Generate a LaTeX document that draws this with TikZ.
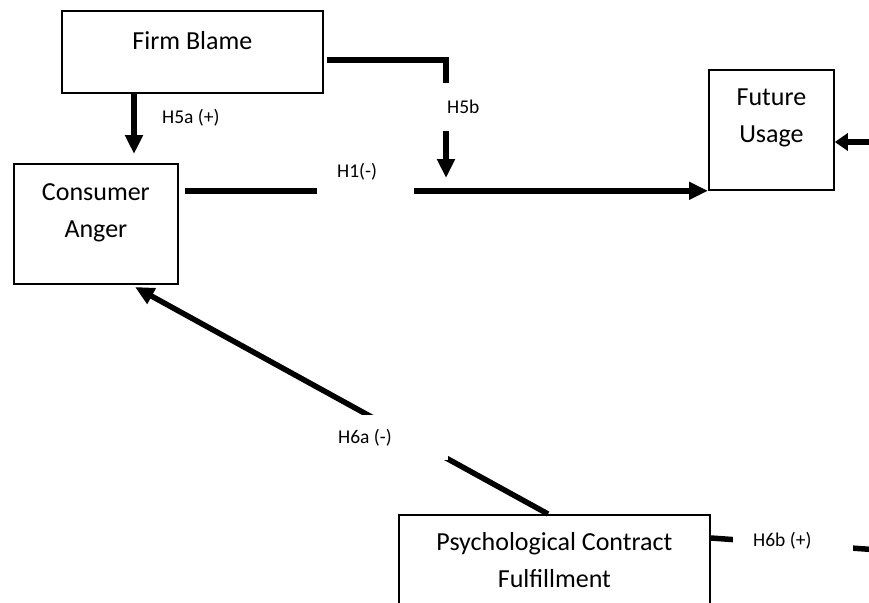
\documentclass[tikz,border=0pt]{standalone}
\usepackage{fontspec}
\setmainfont{Carlito}
\usetikzlibrary{arrows.meta,calc}

% text sizes for the construct boxes and the hypothesis labels
\newcommand\diagboxfont{\fontsize{26}{37}\selectfont}
\newcommand\diaglblfont{\fontsize{19.5}{23}\selectfont}
% box text: top-aligned, first baseline #3 below the top edge
\newcommand\boxtext[4]{\parbox[c][#2][t]{#1}{\centering\diagboxfont\rule{0pt}{#3}#4}}
% label text with the font's own interword space
\newcommand\lbltext[1]{\spaceskip=0pt\xspaceskip=0pt\relax #1}

\tikzset{
  construct/.style={draw, line width=1.8pt, inner sep=0pt, anchor=north west},
  conn/.style={line width=5.5pt, -{Triangle[length=19pt,width=17pt]}},
  connsmall/.style={line width=5.5pt, -{Triangle[length=13pt,width=17pt]}},
  bar/.style={line width=5.5pt},
  gaplabel/.style={fill=white, inner xsep=20pt, inner ysep=0pt, minimum height=45pt,
                   align=left, anchor=west, font=\diaglblfont},
  plainlabel/.style={inner sep=0pt, anchor=base west, font=\diaglblfont},
}

\begin{document}
\begin{tikzpicture}[x=1pt, y=-1pt]
  \useasboundingbox (0,0) rectangle (869,602);
  \fill[white] (0,0) rectangle (869,602);
  \clip (0,0) rectangle (869,602);

  % constructs
  \node[construct] (fb)  at (61,10)   {\boxtext{261pt}{82pt}{39pt}{Firm Blame}};
  \node[construct] (ca)  at (13,163)  {\boxtext{164pt}{120pt}{37pt}{Consumer\\Anger}};
  \node[construct] (fu)  at (708,69)  {\boxtext{125pt}{120pt}{36pt}{Future\\Usage}};
  \node[construct] (pcf) at (398,514) {\boxtext{311pt}{130pt}{36pt}{Psychological Contract\\Fulfillment}};

  % free ends of connectors
  \coordinate (h5aTip) at (134,154);
  \coordinate (h5bTip) at (446,178);
  \coordinate (h6aTip) at (135,287);
  \coordinate (fuIn)   at (900,142);
  \coordinate (h6bOut) at (900,551.5);

  % H5a: firm blame -> consumer anger
  \draw[conn] (fb.south -| h5aTip) -- (h5aTip);
  % H5b: firm blame moderates the H1 path
  \draw[conn] ($(fb.east)+(3,8)$) -| (h5bTip);
  % H1: consumer anger -> future usage
  \draw[conn] ($(ca.east |- fu.south west)+(6,0)$) -- (fu.south west);
  % incoming path on the right of future usage
  \draw[connsmall] (fuIn) -- (fu.east |- fuIn);
  % H6a: psychological contract fulfillment -> consumer anger
  \draw[conn] ($(pcf.north west)+(150,0)$) -- (h6aTip);
  % H6b: psychological contract fulfillment -> (right)
  \draw[bar] ($(pcf.north east)+(0,24)$) -- (h6bOut);

  % hypothesis labels
  \node[plainlabel] (h5aLbl) at (162,123) {H5a (+)};
  \node[gaplabel, text width=50pt, minimum height=48pt] (h5bLbl) at (427,106.5) {\lbltext{H5b}};
  \node[gaplabel, text width=57pt] (h1Lbl)  at (317,171.5) {\lbltext{H1(-)}};
  \node[gaplabel, text width=90pt] (h6aLbl) at (318,437.5) {\lbltext{H6a (-)}};
  \node[gaplabel, text width=80pt] (h6bLbl) at (733,540.5) {\lbltext{H6b (+)}};
\end{tikzpicture}
\end{document}
